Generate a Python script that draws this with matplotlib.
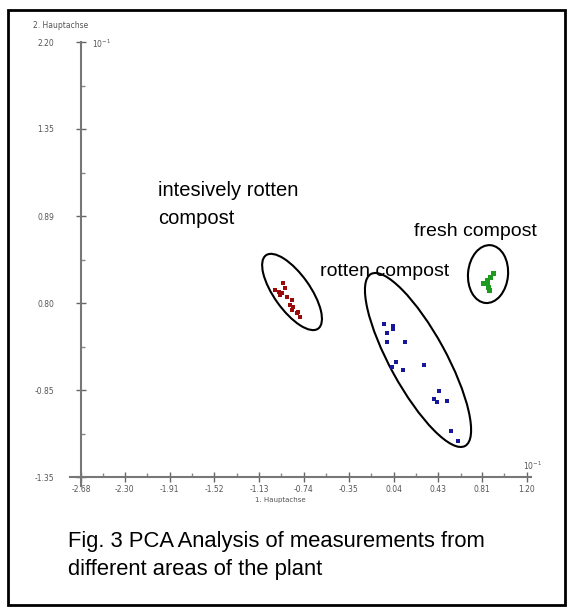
import matplotlib.pyplot as plt
from matplotlib.patches import Ellipse, Rectangle
from matplotlib.transforms import ScaledTranslation

# scores (units of 10^-1)
red_x = [-0.99, -0.96, -0.934, -0.92, -0.905, -0.949, -0.89, -0.847, -0.862, -0.833, -0.847, -0.789, -0.775, -0.803]
red_y = [0.18, 0.16, 0.149, 0.23, 0.19, 0.135, 0.121, 0.094, 0.054, 0.04, 0.013, -0.001, -0.042, -0.014]
blue_x = [-0.041, 0.032, 0.037, -0.015, -0.02, 0.139, 0.058, 0.023, 0.124, 0.307, 0.435, 0.391, 0.415, 0.502, 0.536, 0.603]
blue_y = [-0.101, -0.118, -0.14, -0.177, -0.248, -0.248, -0.412, -0.45, -0.477, -0.439, -0.646, -0.711, -0.74, -0.727, -0.972, -1.059]
green_x = [0.907, 0.878, 0.85, 0.835, 0.864, 0.872, 0.85, 0.82]
green_y = [0.312, 0.284, 0.258, 0.23, 0.203, 0.176, 0.244, 0.23]

xticks = [-2.68, -2.30, -1.91, -1.52, -1.13, -0.74, -0.35, 0.04, 0.43, 0.81, 1.20]
yticklabels = ['-1.35', '-0.85', '0.80', '0.89', '1.35', '2.20']
ymin, ystep = -1.35, 0.71
xmin, xstep = -2.68, 0.388

# group outlines: center (data), width/height (px), angle
groups = [(-0.844, 0.16, 90, 36, -54.6),
          (0.252, -0.395, 196, 56, -61.3),
          (0.861, 0.306, 40, 58, -5)]

W, H = 573, 612
fig = plt.figure(figsize=(W / 100, H / 100), dpi=100)
ax = fig.add_axes([60 / W, 1 - 495 / H, 485 / W, 465 / H])
sx = xstep / 44.6
sy = ystep / 87
ax.set_xlim(xmin - 21 * sx, xmin + 464 * sx)
ax.set_ylim(ymin - 18 * sy, ymin + 447 * sy)

ax.plot(red_x, red_y, 's', color='#9a0a0a', ms=3.2, mew=0)
ax.plot(blue_x, blue_y, 's', color='#16169a', ms=3.2, mew=0)
ax.plot(green_x, green_y, 's', color='#1e9a1e', ms=3.6, mew=0)

for cx, cy, w, h, a in groups:
    tr = fig.dpi_scale_trans + ScaledTranslation(cx, cy, ax.transData)
    ax.add_patch(Ellipse((0, 0), w / 100, h / 100, angle=a, fill=False,
                         ec='black', lw=1.5, transform=tr, clip_on=False))

for s in ['top', 'right']:
    ax.spines[s].set_visible(False)
for s in ['left', 'bottom']:
    ax.spines[s].set_color('#777777')
    ax.spines[s].set_linewidth(1.5)
ax.spines['left'].set_position(('data', xmin))
ax.spines['bottom'].set_position(('data', ymin))
ax.spines['left'].set_bounds(ymin - 9 * sy, ymin + 5 * ystep)
ax.spines['bottom'].set_bounds(xmin - 11 * sx, 1.235)

ax.set_xticks(xticks)
ax.set_xticklabels(['%.2f' % v for v in xticks])
ax.set_xticks([v + xstep / 2 for v in xticks[:-1]], minor=True)
ax.set_yticks([ymin + k * ystep for k in range(6)])
ax.set_yticklabels(yticklabels)
ax.set_yticks([ymin + (k + 0.5) * ystep for k in range(5)], minor=True)
ax.tick_params(which='major', direction='inout', length=7, width=1, color='#666666',
               labelsize=5.5, labelcolor='#555555')
ax.tick_params(which='minor', direction='in', length=3, width=1, color='#888888')
ax.tick_params(axis='y', which='major', pad=16)
ax.tick_params(axis='x', which='major', pad=2)
ax.patch.set_alpha(0)

def ftext(x, y, s, **kw):
    fig.text(x / W, 1 - y / H, s, **kw)

ftext(33, 25, '2. Hauptachse', fontsize=5.5, color='#555555', va='center')
ftext(92, 44, r'10$^{-1}$', fontsize=5.5, color='#555555', va='center')
ftext(523, 466, r'10$^{-1}$', fontsize=5.5, color='#555555', va='center')
ftext(280, 500, '1. Hauptachse', fontsize=5, color='#555555', va='center', ha='center')

lab = dict(family='Liberation Sans', fontsize=14, color='black', va='center')
ftext(158, 190, 'intesively rotten', **dict(lab, fontsize=14.5))
ftext(158, 218, 'compost', **dict(lab, fontsize=14.5))
ftext(320, 271, 'rotten compost', **lab)
ftext(414, 231, 'fresh compost', **lab)

cap = dict(family='Liberation Sans', fontsize=15.8, color='black', va='center')
ftext(68, 541, 'Fig. 3 PCA Analysis of measurements from', **cap)
ftext(68, 570, 'different areas of the plant', **cap)

fig.add_artist(Rectangle((8 / W, 1 - 605 / H), 557 / W, 595 / H, transform=fig.transFigure,
                         fill=False, ec='black', lw=2))

fig.savefig('out.png', dpi=100)
